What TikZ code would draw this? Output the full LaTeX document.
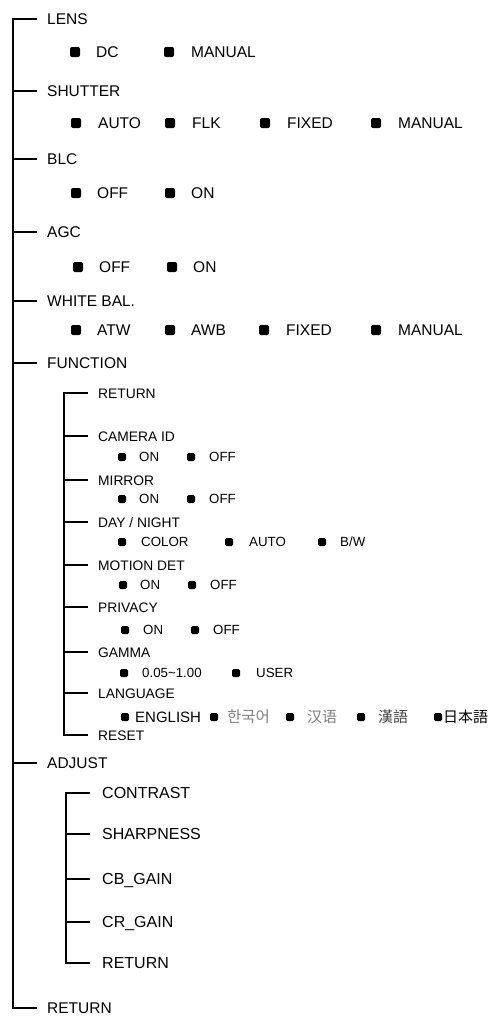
\documentclass[tikz,border=0pt]{standalone}
\usepackage{fontspec}
\setmainfont{Liberation Sans}
\newfontfamily\krfont{Noto Sans CJK KR}
\newfontfamily\scfont{Noto Sans CJK SC}
\newfontfamily\tcfont{Noto Sans CJK TC}
\newfontfamily\jpfont{Noto Sans CJK JP}

\tikzset{
tree/.style={line width=1.1pt},
item/.style={anchor=west,inner xsep=10pt,inner ysep=0pt,text height=11pt,text depth=0pt,font=\fontsize{15.5}{18}\selectfont},
subitem/.style={item,text height=10pt,font=\fontsize{13.8}{16}\selectfont},
adjitem/.style={item,inner xsep=12pt,font=\fontsize{16}{19}\selectfont},
opt/.style={anchor=west,inner sep=0pt,text height=11pt,text depth=0pt,font=\fontsize{15.5}{18}\selectfont},
subopt/.style={opt,text height=9.5pt,font=\fontsize{13.3}{16}\selectfont},
langopt/.style={opt,font=\fontsize{15}{18}\selectfont},
dot/.style={fill,rounded corners=2pt,inner sep=0pt,minimum size=10pt},
subdot/.style={dot,rounded corners=1.5pt,minimum size=8pt}
}

\begin{document}
\begin{tikzpicture}[x=1pt,y=-1pt]
\useasboundingbox (0,0) rectangle (491,1017);

\foreach \y/\n/\t in {19/lens/LENS,91/shutter/SHUTTER,159/blc/BLC,232/agc/AGC,301/wb/WHITE BAL.,363/func/FUNCTION,763/adj/ADJUST,1008/ret/RETURN}
{
\node[item] (\n) at (37,\y) {\t};
}
\coordinate (mb) at (13,1008);
\draw[tree] (lens.west) -| (mb) -- (ret.west);
\foreach \n in {shutter,blc,agc,wb,func,adj}
\draw[tree] (mb |- \n.west) -- (\n.west);

\foreach \y/\r/\l in {52/lens/{75/96/DC,169/191/MANUAL},123/shutter/{76/98/AUTO,170/192/FLK,265/287/FIXED,376/398/MANUAL},193/blc/{76/97/OFF,170/191/ON},267/agc/{78/99/OFF,172/193/ON},330/wb/{76/97/ATW,170/191/AWB,264/286/FIXED,376/398/MANUAL}}
{
\foreach \bx/\tx/\t [count=\k] in \l
{
\node[dot] (\r-b\k) at (\bx,\y) {};
\node[opt] (\r-\k) at (\tx,\y) {\t};
}
}

\foreach \y/\n/\t in {393/fret/RETURN,436/camid/CAMERA ID,480/mirror/MIRROR,522/daynight/{DAY / NIGHT},565/motion/MOTION DET,607/privacy/PRIVACY,652/gamma/GAMMA,693/lang/LANGUAGE,735/reset/RESET}
{
\node[subitem] (\n) at (88,\y) {\t};
}
\coordinate (fb) at (64,735);
\draw[tree] (fret.west) -| (fb) -- (reset.west);
\foreach \n in {camid,mirror,daynight,motion,privacy,gamma,lang}
\draw[tree] (fb |- \n.west) -- (\n.west);

\foreach \y/\r/\l in {457/camid/{122/139/ON,191/209/OFF},499/mirror/{122/139/ON,191/209/OFF},542/daynight/{122/141/COLOR,229/249/AUTO,322/340/{B/W}},585/motion/{123/140/ON,192/210/OFF},630/privacy/{125/143/ON,195/213/OFF},673/gamma/{124/142/0.05\textasciitilde 1.00,236/256/USER}}
{
\foreach \bx/\tx/\t [count=\k] in \l
{
\node[subdot] (\r-b\k) at (\bx,\y) {};
\node[subopt] (\r-\k) at (\tx,\y) {\t};
}
}

\foreach \bx/\tx/\t [count=\k] in {125/135/ENGLISH,214/227/{\color{gray}\krfont\fontsize{15.5}{18}\selectfont 한국어},290/307/{\color{gray}\scfont\fontsize{15}{18}\selectfont 汉语},361/378/{\color{darkgray}\tcfont\fontsize{15}{18}\selectfont 漢語},438/443/{\jpfont\fontsize{15}{18}\selectfont 日本語}}
{
\node[subdot] (lang-b\k) at (\bx,717) {};
\node[langopt] (lang-\k) at (\tx,717) {\t};
}

\foreach \y/\n/\t in {793/contrast/CONTRAST,834/sharp/SHARPNESS,879/cbgain/CB\_GAIN,922/crgain/CR\_GAIN,963/aret/RETURN}
{
\node[adjitem] (\n) at (90,\y) {\t};
}
\coordinate (ab) at (66,963);
\draw[tree] (contrast.west) -| (ab) -- (aret.west);
\foreach \n in {sharp,cbgain,crgain}
\draw[tree] (ab |- \n.west) -- (\n.west);
\end{tikzpicture}
\end{document}
